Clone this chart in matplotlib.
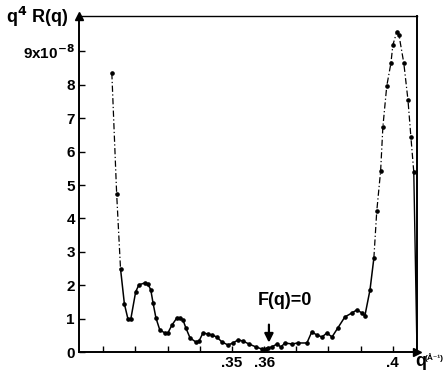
"""Reflectivity q^4 R(q) vs q, with F(q)=0 marked"""
import matplotlib.pyplot as plt
import numpy as np

plt.rcParams['font.family'] = ['Liberation Sans', 'DejaVu Sans']
plt.rcParams['mathtext.default'] = 'bf'

# data (q in 1/A, q^4 R in units of 1e-8)
q = [0.3127, 0.3142, 0.3154, 0.3166, 0.3177, 0.3186, 0.3201, 0.3211, 0.3230,
     0.3239, 0.3248, 0.3255, 0.3264, 0.3276, 0.3292, 0.3301, 0.3314, 0.3329,
     0.3339, 0.3348, 0.3357, 0.3370, 0.3388, 0.3398, 0.3410, 0.3425, 0.3438,
     0.3453, 0.3469, 0.3488, 0.3503, 0.3519, 0.3534, 0.3553, 0.3575, 0.3593,
     0.3606, 0.3612, 0.3624, 0.3640, 0.3652, 0.3665, 0.3686, 0.3705, 0.3733,
     0.3748, 0.3764, 0.3780, 0.3795, 0.3811, 0.3829, 0.3851, 0.3873, 0.3888,
     0.3904, 0.3913, 0.3929, 0.3941, 0.3950, 0.3962, 0.3969, 0.3981, 0.3994,
     0.4000, 0.4012, 0.4019, 0.4034, 0.4047, 0.4056, 0.4065, 0.4075]
r = [8.35, 4.73, 2.49, 1.44, 0.99, 0.99, 1.80, 2.01, 2.07,
     2.04, 1.86, 1.47, 1.02, 0.66, 0.57, 0.57, 0.81, 1.02,
     1.02, 0.96, 0.72, 0.42, 0.30, 0.33, 0.57, 0.54, 0.51,
     0.45, 0.30, 0.21, 0.27, 0.36, 0.33, 0.24, 0.15, 0.09,
     0.09, 0.12, 0.15, 0.24, 0.15, 0.27, 0.24, 0.27, 0.27,
     0.60, 0.51, 0.45, 0.57, 0.45, 0.72, 1.05, 1.17, 1.26,
     1.17, 1.08, 1.86, 2.81, 4.22, 5.42, 6.74, 7.96, 8.65,
     9.19, 9.58, 9.49, 8.65, 7.54, 6.44, 5.39, 0.0]
solid_from, solid_to = 2, 57   # the dense part is drawn solid, steep ends dash-dot

xticks = [0.31, 0.32, 0.33, 0.34, 0.35, 0.36, 0.37, 0.38, 0.39, 0.40]
xlabels = ['', '', '', '', '.35', '.36', '', '', '', '.4']
yticks = [0, 1, 2, 3, 4, 5, 6, 7, 8, 9]
ylabels = ['0', '1', '2', '3', '4', '5', '6', '7', '8', '9x10$^{-8}$']

fig = plt.figure(figsize=(4.46, 3.70), dpi=100)
ax = fig.add_axes([79 / 446, 1 - 352 / 370, 338 / 446, 336 / 370])

qa, ra = np.array(q), np.array(r)
dd = (0, (5, 2, 1, 2))
ax.plot(qa[:solid_from + 1], ra[:solid_from + 1], color='black', lw=0.9, ls=dd)
ax.plot(qa[solid_from:solid_to + 1], ra[solid_from:solid_to + 1], color='black', lw=1.1)
ax.plot(qa[solid_to:-1], ra[solid_to:-1], color='black', lw=0.9, ls=dd)
ax.plot(qa[-2:], ra[-2:], color='black', lw=1.0)
ax.plot(qa[:-1], ra[:-1], 'o', color='black', ms=2.3)

ax.set_xlim(0.3025, 0.4075)
ax.set_ylim(0, 10.06)
ax.set_xticks(xticks)
ax.set_xticklabels(xlabels, fontweight='bold', fontsize=11)
ax.set_yticks(yticks)
ax.set_yticklabels(ylabels, fontweight='bold', fontsize=11)
ax.tick_params(direction='in', length=4, width=1.0, pad=3)

for s in ['left', 'bottom', 'right']:
    ax.spines[s].set_linewidth(1.4)
ax.spines['top'].set_linewidth(1.0)

# arrow heads on the axes
ax.plot(0, 1, marker='^', color='black', ms=6, transform=ax.transAxes, clip_on=False)
ax.plot(1, 0, marker='>', color='black', ms=6, transform=ax.transAxes, clip_on=False)

ax.annotate('', xy=(0.3615, 0.28), xytext=(0.3615, 0.82),
            arrowprops=dict(arrowstyle='-|>', color='black', lw=1.6,
                            shrinkA=0, shrinkB=0, mutation_scale=13))
ax.text(0.3665, 1.3, 'F(q)=0', ha='center', va='bottom', fontsize=13,
        fontweight='bold')

fig.text(6 / 446, 1 - 17 / 370, 'q$^4$ R(q)', fontsize=13, fontweight='bold',
         va='center', ha='left')
fig.text(415 / 446, 1 - 362 / 370, 'q', fontsize=13, fontweight='bold',
         va='center', ha='left')
fig.text(425 / 446, 1 - 358 / 370, '(Å⁻¹)', fontsize=6,
         fontweight='bold', va='center', ha='left',
         family=['Liberation Sans', 'DejaVu Sans'])

plt.savefig('out.png', dpi=100)
plt.close()
